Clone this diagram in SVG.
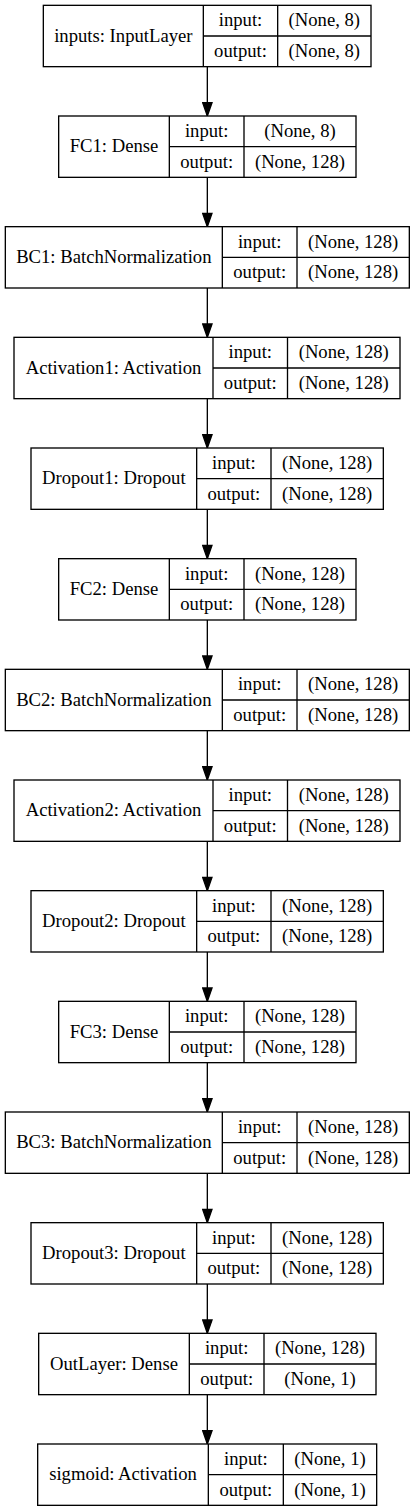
<svg xmlns="http://www.w3.org/2000/svg" width="415" height="1512" viewBox="0 0 415 1512">
<style>
.b{fill:#fff;stroke:#000;stroke-width:1.33}
.l{stroke:#000;stroke-width:1.33;fill:none}
text{font-family:"Liberation Serif","Times New Roman",serif;font-size:18.67px;text-anchor:middle;fill:#000}
</style>
<defs>
<marker id="ah" viewBox="-1 -1 15.33 11.33" refX="13.33" refY="4.67" markerWidth="15.33" markerHeight="11.33" orient="auto" markerUnits="userSpaceOnUse">
<path d="M0,0 L13.33,4.67 L0,9.33 Z" fill="#000" stroke="#000" stroke-width="1.33"/>
</marker>
</defs>
<rect width="415" height="1512" fill="#fff"/>
<g id="connectors">
<line class="l" x1="207.33" y1="66.67" x2="207.33" y2="116" marker-end="url(#ah)"/>
<line class="l" x1="207.33" y1="177.33" x2="207.33" y2="226.67" marker-end="url(#ah)"/>
<line class="l" x1="207.33" y1="288" x2="207.33" y2="337.33" marker-end="url(#ah)"/>
<line class="l" x1="207.33" y1="398.67" x2="207.33" y2="448" marker-end="url(#ah)"/>
<line class="l" x1="207.33" y1="509.33" x2="207.33" y2="558.67" marker-end="url(#ah)"/>
<line class="l" x1="207.33" y1="620" x2="207.33" y2="669.33" marker-end="url(#ah)"/>
<line class="l" x1="207.33" y1="730.67" x2="207.33" y2="780" marker-end="url(#ah)"/>
<line class="l" x1="207.33" y1="841.33" x2="207.33" y2="890.67" marker-end="url(#ah)"/>
<line class="l" x1="207.33" y1="952" x2="207.33" y2="1001.33" marker-end="url(#ah)"/>
<line class="l" x1="207.33" y1="1062.67" x2="207.33" y2="1112" marker-end="url(#ah)"/>
<line class="l" x1="207.33" y1="1173.33" x2="207.33" y2="1222.67" marker-end="url(#ah)"/>
<line class="l" x1="207.33" y1="1284" x2="207.33" y2="1333.33" marker-end="url(#ah)"/>
<line class="l" x1="207.33" y1="1394.67" x2="207.33" y2="1444" marker-end="url(#ah)"/>
</g>
<g id="inputs" transform="translate(0,5.33)">
<rect class="b" x="43.33" y="0" width="327.67" height="61.33"/>
<line class="l" x1="203.33" y1="0" x2="203.33" y2="61.33"/><line class="l" x1="277.67" y1="0" x2="277.67" y2="61.33"/><line class="l" x1="203.33" y1="30.67" x2="371" y2="30.67"/>
<text x="123.33" y="36.3">inputs: InputLayer</text>
<text x="240.5" y="21">input:</text><text x="324.33" y="21">(None, 8)</text>
<text x="240.5" y="51.67">output:</text><text x="324.33" y="51.67">(None, 8)</text>
</g>
<g id="FC1" transform="translate(0,116)">
<rect class="b" x="58.67" y="0" width="297.33" height="61.33"/>
<line class="l" x1="169.33" y1="0" x2="169.33" y2="61.33"/><line class="l" x1="244" y1="0" x2="244" y2="61.33"/><line class="l" x1="169.33" y1="30.67" x2="356" y2="30.67"/>
<text x="114" y="36.3">FC1: Dense</text>
<text x="206.67" y="21">input:</text><text x="300" y="21">(None, 8)</text>
<text x="206.67" y="51.67">output:</text><text x="300" y="51.67">(None, 128)</text>
</g>
<g id="BC1" transform="translate(0,226.67)">
<rect class="b" x="5.33" y="0" width="404" height="61.33"/>
<line class="l" x1="222.33" y1="0" x2="222.33" y2="61.33"/><line class="l" x1="297" y1="0" x2="297" y2="61.33"/><line class="l" x1="222.33" y1="30.67" x2="409.33" y2="30.67"/>
<text x="113.83" y="36.3">BC1: BatchNormalization</text>
<text x="259.67" y="21">input:</text><text x="353.17" y="21">(None, 128)</text>
<text x="259.67" y="51.67">output:</text><text x="353.17" y="51.67">(None, 128)</text>
</g>
<g id="Activation1" transform="translate(0,337.33)">
<rect class="b" x="14" y="0" width="386" height="61.33"/>
<line class="l" x1="213" y1="0" x2="213" y2="61.33"/><line class="l" x1="287.5" y1="0" x2="287.5" y2="61.33"/><line class="l" x1="213" y1="30.67" x2="400" y2="30.67"/>
<text x="113.5" y="36.3">Activation1: Activation</text>
<text x="250.25" y="21">input:</text><text x="343.75" y="21">(None, 128)</text>
<text x="250.25" y="51.67">output:</text><text x="343.75" y="51.67">(None, 128)</text>
</g>
<g id="Dropout1" transform="translate(0,448)">
<rect class="b" x="31" y="0" width="352.33" height="61.33"/>
<line class="l" x1="196.67" y1="0" x2="196.67" y2="61.33"/><line class="l" x1="271" y1="0" x2="271" y2="61.33"/><line class="l" x1="196.67" y1="30.67" x2="383.33" y2="30.67"/>
<text x="113.83" y="36.3">Dropout1: Dropout</text>
<text x="233.83" y="21">input:</text><text x="327.17" y="21">(None, 128)</text>
<text x="233.83" y="51.67">output:</text><text x="327.17" y="51.67">(None, 128)</text>
</g>
<g id="FC2" transform="translate(0,558.67)">
<rect class="b" x="58.67" y="0" width="297.33" height="61.33"/>
<line class="l" x1="169.33" y1="0" x2="169.33" y2="61.33"/><line class="l" x1="244" y1="0" x2="244" y2="61.33"/><line class="l" x1="169.33" y1="30.67" x2="356" y2="30.67"/>
<text x="114" y="36.3">FC2: Dense</text>
<text x="206.67" y="21">input:</text><text x="300" y="21">(None, 128)</text>
<text x="206.67" y="51.67">output:</text><text x="300" y="51.67">(None, 128)</text>
</g>
<g id="BC2" transform="translate(0,669.33)">
<rect class="b" x="5.33" y="0" width="404" height="61.33"/>
<line class="l" x1="222.33" y1="0" x2="222.33" y2="61.33"/><line class="l" x1="297" y1="0" x2="297" y2="61.33"/><line class="l" x1="222.33" y1="30.67" x2="409.33" y2="30.67"/>
<text x="113.83" y="36.3">BC2: BatchNormalization</text>
<text x="259.67" y="21">input:</text><text x="353.17" y="21">(None, 128)</text>
<text x="259.67" y="51.67">output:</text><text x="353.17" y="51.67">(None, 128)</text>
</g>
<g id="Activation2" transform="translate(0,780)">
<rect class="b" x="14" y="0" width="386" height="61.33"/>
<line class="l" x1="213" y1="0" x2="213" y2="61.33"/><line class="l" x1="287.5" y1="0" x2="287.5" y2="61.33"/><line class="l" x1="213" y1="30.67" x2="400" y2="30.67"/>
<text x="113.5" y="36.3">Activation2: Activation</text>
<text x="250.25" y="21">input:</text><text x="343.75" y="21">(None, 128)</text>
<text x="250.25" y="51.67">output:</text><text x="343.75" y="51.67">(None, 128)</text>
</g>
<g id="Dropout2" transform="translate(0,890.67)">
<rect class="b" x="31" y="0" width="352.33" height="61.33"/>
<line class="l" x1="196.67" y1="0" x2="196.67" y2="61.33"/><line class="l" x1="271" y1="0" x2="271" y2="61.33"/><line class="l" x1="196.67" y1="30.67" x2="383.33" y2="30.67"/>
<text x="113.83" y="36.3">Dropout2: Dropout</text>
<text x="233.83" y="21">input:</text><text x="327.17" y="21">(None, 128)</text>
<text x="233.83" y="51.67">output:</text><text x="327.17" y="51.67">(None, 128)</text>
</g>
<g id="FC3" transform="translate(0,1001.33)">
<rect class="b" x="58.67" y="0" width="297.33" height="61.33"/>
<line class="l" x1="169.33" y1="0" x2="169.33" y2="61.33"/><line class="l" x1="244" y1="0" x2="244" y2="61.33"/><line class="l" x1="169.33" y1="30.67" x2="356" y2="30.67"/>
<text x="114" y="36.3">FC3: Dense</text>
<text x="206.67" y="21">input:</text><text x="300" y="21">(None, 128)</text>
<text x="206.67" y="51.67">output:</text><text x="300" y="51.67">(None, 128)</text>
</g>
<g id="BC3" transform="translate(0,1112)">
<rect class="b" x="5.33" y="0" width="404" height="61.33"/>
<line class="l" x1="222.33" y1="0" x2="222.33" y2="61.33"/><line class="l" x1="297" y1="0" x2="297" y2="61.33"/><line class="l" x1="222.33" y1="30.67" x2="409.33" y2="30.67"/>
<text x="113.83" y="36.3">BC3: BatchNormalization</text>
<text x="259.67" y="21">input:</text><text x="353.17" y="21">(None, 128)</text>
<text x="259.67" y="51.67">output:</text><text x="353.17" y="51.67">(None, 128)</text>
</g>
<g id="Dropout3" transform="translate(0,1222.67)">
<rect class="b" x="31" y="0" width="352.33" height="61.33"/>
<line class="l" x1="196.67" y1="0" x2="196.67" y2="61.33"/><line class="l" x1="271" y1="0" x2="271" y2="61.33"/><line class="l" x1="196.67" y1="30.67" x2="383.33" y2="30.67"/>
<text x="113.83" y="36.3">Dropout3: Dropout</text>
<text x="233.83" y="21">input:</text><text x="327.17" y="21">(None, 128)</text>
<text x="233.83" y="51.67">output:</text><text x="327.17" y="51.67">(None, 128)</text>
</g>
<g id="OutLayer" transform="translate(0,1333.33)">
<rect class="b" x="38.67" y="0" width="337.33" height="61.33"/>
<line class="l" x1="189.33" y1="0" x2="189.33" y2="61.33"/><line class="l" x1="264" y1="0" x2="264" y2="61.33"/><line class="l" x1="189.33" y1="30.67" x2="376" y2="30.67"/>
<text x="114" y="36.3">OutLayer: Dense</text>
<text x="226.67" y="21">input:</text><text x="320" y="21">(None, 128)</text>
<text x="226.67" y="51.67">output:</text><text x="320" y="51.67">(None, 1)</text>
</g>
<g id="sigmoid" transform="translate(0,1444)">
<rect class="b" x="37.67" y="0" width="339" height="61.33"/>
<line class="l" x1="208.33" y1="0" x2="208.33" y2="61.33"/><line class="l" x1="283.33" y1="0" x2="283.33" y2="61.33"/><line class="l" x1="208.33" y1="30.67" x2="376.67" y2="30.67"/>
<text x="123" y="36.3">sigmoid: Activation</text>
<text x="245.83" y="21">input:</text><text x="330" y="21">(None, 1)</text>
<text x="245.83" y="51.67">output:</text><text x="330" y="51.67">(None, 1)</text>
</g>
</svg>
